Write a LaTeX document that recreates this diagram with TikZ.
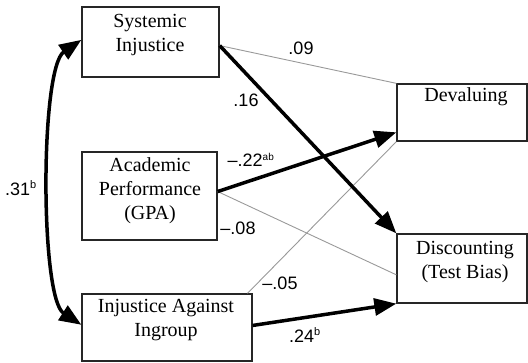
\documentclass[tikz,border=0pt]{standalone}
\usepackage{fontspec}
\setmainfont{Liberation Serif}
\newfontfamily\lblfont{Liberation Sans}
\usetikzlibrary{arrows.meta,calc}
\begin{document}
\begin{tikzpicture}[x=1pt,y=-1pt,
  box/.style={draw=black!85,line width=1.3pt,minimum width=#1,inner sep=0pt,rectangle},
  boxtext/.style={font=\fontsize{20}{24}\selectfont,align=center,inner sep=0pt},
  lbl/.style={font=\lblfont\fontsize{18}{20}\selectfont,inner sep=0pt},
  thick path/.style={line width=3.5pt,-{Triangle[length=22pt,width=17pt]}},
  thin path/.style={line width=0.9pt,draw=black!40}]
\useasboundingbox (0,0) rectangle (528,362);
% boxes
\node[box=137pt,minimum height=70pt] (si) at (150.5,42) {};
\node[box=135pt,minimum height=88pt] (ap) at (149.5,196) {};
\node[box=170pt,minimum height=67pt] (iai) at (167,327.5) {};
\node[box=130pt,minimum height=57pt] (dev) at (462,112.5) {};
\node[box=130pt,minimum height=69pt] (dis) at (462,268.5) {};
% texts
\node[boxtext] (tsi) at (150,35) {Systemic\\Injustice};
\node[boxtext] (tap) at (150,191) {Academic\\Performance\\(GPA)};
\node[boxtext] (tiai) at (166,320) {Injustice Against\\Ingroup};
\node[boxtext] (tdev) at (466,97) {Devaluing};
\node[boxtext] (tdis) at (465,262) {Discounting\\(Test Bias)};
% coordinates
\coordinate (siE) at ($(si.north east)!0.55!(si.south east)$);
\coordinate (apE) at ($(ap.north east)!0.45!(ap.south east)$);
\coordinate (devA) at ($(dev.north west)!0.84!(dev.south west)$);
\coordinate (disA) at ($(dis.north west)!0.59!(dis.south west)$);
\coordinate (iaiN) at ($(iai.north east)!0.03!(iai.north west)$);
\coordinate (iaiE) at ($(iai.north east)!0.47!(iai.south east)$);
\coordinate (siW) at ($(si.north west)!0.47!(si.south west)$);
\coordinate (iaiW) at ($(iai.north west)!0.46!(iai.south west)$);
% thin paths
\draw[thin path] (siE) -- (dev.north west);
\draw[thin path] (apE) -- (disA);
\draw[thin path] (iaiN) -- (dev.south west);
% thick paths
\draw[thick path] (siE) -- (dis.north west);
\draw[thick path] (apE) -- (devA);
\draw[thick path] (iaiE) -- (dis.south west);
% correlation
\draw[line width=3.5pt,{Triangle[length=22pt,width=17pt]}-{Triangle[length=22pt,width=17pt]}]
  (siW) .. controls (40,68) and (40,298) .. (iaiW);
% labels
\node[lbl] (l09) at (301,48) {.09};
\node[lbl] (l16) at (246,100) {.16};
\node[lbl] (l22) at (251,160) {\textendash.22\textsuperscript{\fontsize{10}{10}\selectfont ab}};
\node[lbl] (l08) at (238,228) {\textendash.08};
\node[lbl] (l05) at (280,283) {\textendash.05};
\node[lbl] (l24) at (305,335) {.24\textsuperscript{\fontsize{11}{11}\selectfont b}};
\node[lbl] (l31) at (21,188) {.31\textsuperscript{\fontsize{11}{11}\selectfont b}};
\end{tikzpicture}
\end{document}
